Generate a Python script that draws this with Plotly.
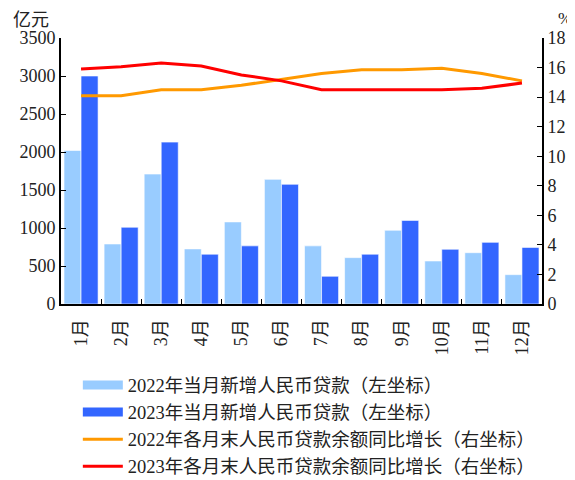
import plotly.graph_objects as go

months = ["1月", "2月", "3月", "4月", "5月", "6月", "7月", "8月", "9月", "10月", "11月", "12月"]
loans_2022 = [2020, 790, 1710, 725, 1080, 1640, 765, 610, 970, 566, 675, 386]
loans_2023 = [3000, 1010, 2130, 655, 765, 1575, 365, 655, 1100, 720, 811, 745]
growth_2022 = [14.1, 14.1, 14.5, 14.5, 14.8, 15.2, 15.6, 15.85, 15.85, 15.95, 15.6, 15.1]
growth_2023 = [15.9, 16.05, 16.3, 16.1, 15.5, 15.1, 14.5, 14.5, 14.5, 14.5, 14.6, 14.95]

names = [
    "2022年当月新增人民币贷款（左坐标）",
    "2023年当月新增人民币贷款（左坐标）",
    "2022年各月末人民币贷款余额同比增长（右坐标）",
    "2023年各月末人民币贷款余额同比增长（右坐标）",
]
c_2022 = "#99CCFF"
c_2023 = "#3366FF"
c_g22 = "#FF9900"
c_g23 = "#FF0000"

FONT = "'Liberation Serif', 'Noto Sans CJK SC', serif"

fig = go.Figure()
fig.add_trace(go.Bar(x=months, y=loans_2022, marker=dict(color=c_2022, line=dict(color="white", width=0.6)),
                     showlegend=False, yaxis="y"))
fig.add_trace(go.Bar(x=months, y=loans_2023, marker=dict(color=c_2023, line=dict(color="white", width=0.6)),
                     showlegend=False, yaxis="y"))
fig.add_trace(go.Scatter(x=months, y=growth_2022, mode="lines", line=dict(color=c_g22, width=3),
                         showlegend=False, yaxis="y2"))
fig.add_trace(go.Scatter(x=months, y=growth_2023, mode="lines", line=dict(color=c_g23, width=3),
                         showlegend=False, yaxis="y2"))

# legend entries
for nm, col, w in [(names[0], c_2022, 9), (names[1], c_2023, 9), (names[2], c_g22, 3), (names[3], c_g23, 3)]:
    fig.add_trace(go.Scatter(x=[None], y=[None], mode="lines", line=dict(color=col, width=w),
                             name=nm, showlegend=True, yaxis="y"))

fig.update_layout(
    width=567, height=472,
    margin=dict(l=53, r=33, t=30, b=176, autoexpand=False),
    plot_bgcolor="white", paper_bgcolor="white",
    font=dict(family=FONT, size=18, color="#222222"),
    barmode="group", bargap=0.15, bargroupgap=0,
    xaxis=dict(showline=True, linecolor="black", linewidth=2, ticks="inside", ticklen=5,
               tickcolor="black", tickson="boundaries", tickangle=-90, showgrid=False,
               tickfont=dict(size=18), automargin=False, ticklabelstandoff=6),
    yaxis=dict(range=[0, 3500], dtick=500, showline=True, linecolor="black", linewidth=2,
               ticks="inside", ticklen=5, tickcolor="black", showgrid=False, zeroline=False,
               tickfont=dict(size=18), automargin=False),
    yaxis2=dict(range=[0, 18], dtick=2, overlaying="y", side="right", showline=True,
                linecolor="black", linewidth=2, ticks="inside", ticklen=5, tickcolor="black",
                showgrid=False, zeroline=False, tickfont=dict(size=18), automargin=False),
    legend=dict(x=0.035, y=-0.235, xanchor="left", yanchor="top", font=dict(size=18.5, family=FONT),
                tracegroupgap=0, itemwidth=40, bgcolor="rgba(0,0,0,0)"),
    annotations=[
        dict(text="亿元", xref="paper", yref="paper", x=-0.02, y=1.0, yshift=6, xanchor="right",
             yanchor="bottom", showarrow=False, font=dict(size=18)),
        dict(text="%", xref="paper", yref="paper", x=1.0, xshift=14, y=1.0, yshift=8,
             xanchor="left", yanchor="bottom", showarrow=False, font=dict(size=17)),
    ],
)

fig.write_html("out.html")
